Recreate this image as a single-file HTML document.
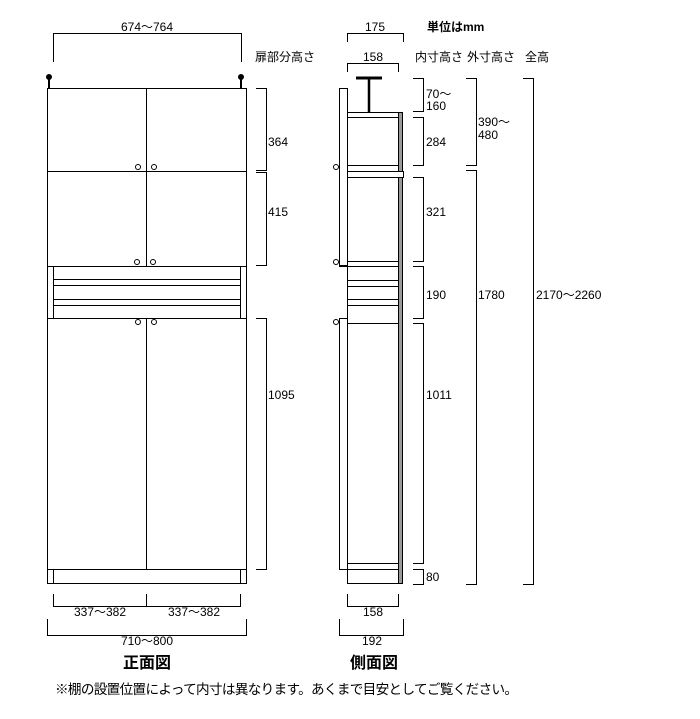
<!DOCTYPE html>
<html><head><meta charset="utf-8"><style>
html,body{margin:0;padding:0;background:#fff}
svg{display:block}
text{font-family:"Liberation Sans","Noto Sans CJK JP",sans-serif;fill:#000}
</style></head><body>
<svg width="700" height="719" viewBox="0 0 700 719" xmlns="http://www.w3.org/2000/svg">
<g fill="none" stroke="#000" stroke-width="1">
<path d="M53.5 62V33.5H241.5V62"/>
<line x1="49" y1="77" x2="49" y2="88" stroke-width="2"/>
<line x1="241" y1="77" x2="241" y2="88" stroke-width="2"/>
<circle cx="49" cy="77" r="2.5" fill="#000"/>
<circle cx="241" cy="77" r="2.5" fill="#000"/>
<rect x="47.5" y="88.5" width="199" height="495"/>
<line x1="146.5" y1="88" x2="146.5" y2="266"/>
<line x1="47" y1="171.5" x2="247" y2="171.5"/>
<line x1="47" y1="266.5" x2="247" y2="266.5"/>
<line x1="53.5" y1="266" x2="53.5" y2="318"/>
<line x1="240.5" y1="266" x2="240.5" y2="318"/>
<line x1="53" y1="279.5" x2="240" y2="279.5"/>
<line x1="53" y1="285.5" x2="240" y2="285.5"/>
<line x1="53" y1="299.5" x2="240" y2="299.5"/>
<line x1="53" y1="305.5" x2="240" y2="305.5"/>
<line x1="47" y1="318.5" x2="247" y2="318.5"/>
<line x1="146.5" y1="318" x2="146.5" y2="569"/>
<line x1="47" y1="569.5" x2="247" y2="569.5"/>
<line x1="53.5" y1="569" x2="53.5" y2="584"/>
<line x1="240.5" y1="569" x2="240.5" y2="584"/>
<circle cx="138" cy="167" r="2.5"/><circle cx="154" cy="167" r="2.5"/>
<circle cx="137" cy="262" r="2.5"/><circle cx="153" cy="262" r="2.5"/>
<circle cx="138" cy="322" r="2.5"/><circle cx="154" cy="322" r="2.5"/>
<path d="M256 88.5H266.5V170.5H256"/>
<path d="M256 172.5H266.5V265.5H256"/>
<path d="M256 318.5H266.5V569.5H256"/>
<path d="M53.5 594V606.5H240.5V594M146.5 594V606"/>
<path d="M47.5 619V635.5H246.5V619"/>
<path d="M347.5 42V33.5H403.5V42"/>
<path d="M347.5 72V63.5H398.5V72"/>
<line x1="356" y1="78" x2="382" y2="78" stroke-width="3"/>
<line x1="369" y1="78" x2="369" y2="112" stroke-width="2.5"/>
<rect x="347.5" y="112.5" width="51" height="471"/>
<rect x="398.5" y="112.5" width="4" height="471" fill="#999"/>
<rect x="339.5" y="88.5" width="8" height="177"/>
<rect x="339.5" y="318.5" width="8" height="251"/>
<line x1="347" y1="117.5" x2="399" y2="117.5"/>
<line x1="347" y1="165.5" x2="399" y2="165.5"/>
<rect x="347.5" y="171.5" width="56" height="6" fill="#fff"/>
<line x1="347" y1="261.5" x2="399" y2="261.5"/>
<line x1="339" y1="266.5" x2="399" y2="266.5"/>
<line x1="347" y1="280.5" x2="399" y2="280.5"/>
<line x1="347" y1="286.5" x2="399" y2="286.5"/>
<line x1="347" y1="299.5" x2="399" y2="299.5"/>
<line x1="347" y1="305.5" x2="399" y2="305.5"/>
<line x1="347" y1="323.5" x2="399" y2="323.5"/>
<line x1="347" y1="563.5" x2="399" y2="563.5"/>
<line x1="339" y1="569.5" x2="399" y2="569.5"/>
<circle cx="336" cy="167" r="2.5"/>
<circle cx="336" cy="262" r="2.5"/>
<circle cx="336" cy="322" r="2.5"/>
<path d="M413 78.5H423.5V111.5H413"/>
<path d="M413 117.5H423.5V165.5H413"/>
<path d="M413 177.5H423.5V261.5H413"/>
<path d="M413 266.5H423.5V318.5H413"/>
<path d="M413 323.5H423.5V563.5H413"/>
<path d="M413 569.5H423.5V584.5H413"/>
<path d="M466 78.5H476.5V165.5H466"/>
<path d="M466 170.5H476.5V584.5H466"/>
<path d="M523 78.5H533.5V584.5H523"/>
<path d="M347.5 594V606.5H398.5V594"/>
<path d="M339.5 619V635.5H403.5V619"/>
</g>
<g font-size="12">
<text x="147" y="31" text-anchor="middle">674～764</text>
<text x="375" y="31" text-anchor="middle">175</text>
<text x="373" y="61" text-anchor="middle">158</text>
<text x="255" y="61">扉部分高さ</text>
<text x="415" y="61">内寸高さ</text>
<text x="467" y="61">外寸高さ</text>
<text x="525" y="61">全高</text>
<text x="268" y="146">364</text>
<text x="268" y="216">415</text>
<text x="268" y="399">1095</text>
<text x="426" y="98">70～</text>
<text x="426" y="110">160</text>
<text x="426" y="146">284</text>
<text x="426" y="216">321</text>
<text x="426" y="299">190</text>
<text x="426" y="399">1011</text>
<text x="426" y="581">80</text>
<text x="478" y="126">390～</text>
<text x="478" y="139">480</text>
<text x="478" y="299">1780</text>
<text x="536" y="299">2170～2260</text>
<text x="100" y="616" text-anchor="middle">337～382</text>
<text x="194" y="616" text-anchor="middle">337～382</text>
<text x="147" y="645" text-anchor="middle">710～800</text>
<text x="373" y="616" text-anchor="middle">158</text>
<text x="372" y="645" text-anchor="middle">192</text>
</g>
<text x="427" y="31" font-size="12" font-weight="bold">単位はmm</text>
<text x="147" y="668" font-size="16" font-weight="bold" text-anchor="middle">正面図</text>
<text x="374" y="668" font-size="16" font-weight="bold" text-anchor="middle">側面図</text>
<text x="55" y="694" font-size="13.6" textLength="463">※棚の設置位置によって内寸は異なります。あくまで目安としてご覧ください。</text>
</svg>
</body></html>
